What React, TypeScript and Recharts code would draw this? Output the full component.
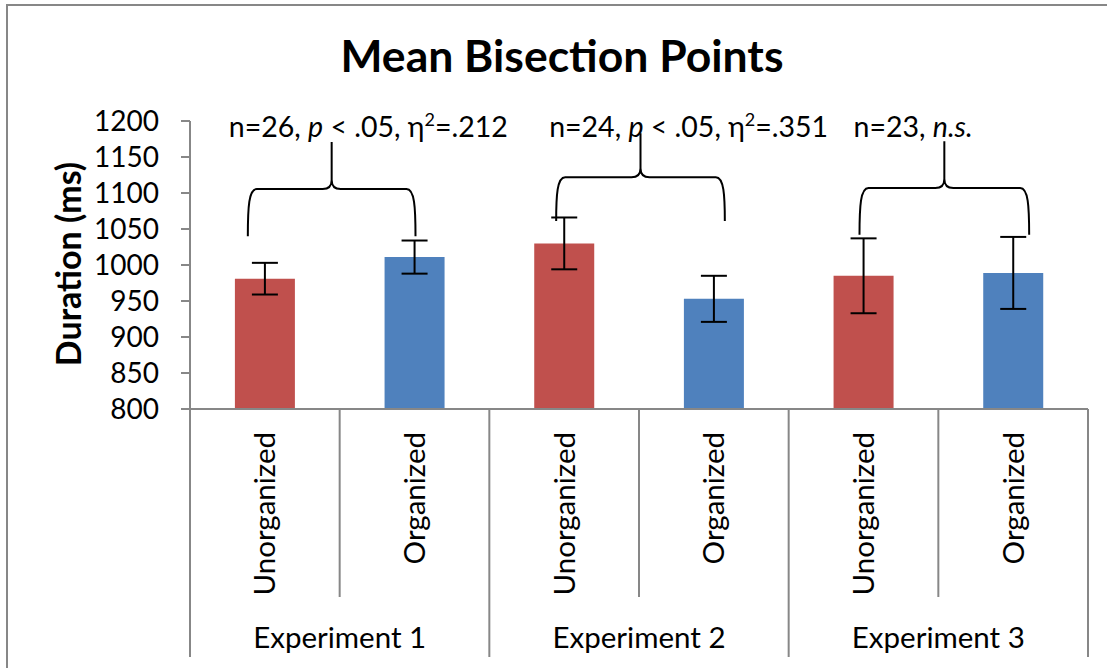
import React from "react";
import {
  BarChart,
  Bar,
  XAxis,
  YAxis,
  ErrorBar,
  Cell,
  ReferenceLine,
  ReferenceDot,
  Customized,
} from "recharts";

// ---- data ----
const CONDITIONS = ["Unorganized", "Organized", "Unorganized", "Organized", "Unorganized", "Organized"];
const EXPERIMENTS = ["Experiment 1", "Experiment 2", "Experiment 3"];
const MEANS = [981, 1011, 1030, 953, 985, 989];
const ERRORS = [22, 23, 36, 32, 52, 50];
const Y_TICKS = [800, 850, 900, 950, 1000, 1050, 1100, 1150, 1200];

// brace legs bottom / brace tip, in ms
const BRACE_LEGS = [1040, 1061, 1042];
const BRACE_TIPS = [1171, 1183, 1172];
const STATS_N = ["n=26", "n=24", "n=23"];
const STATS_P = ["< .05", "< .05", ""];
const STATS_ETA = [".212", ".351", ""];
const STATS_LEVEL = 1178;

// ---- styling ----
const FONT = "Lato, 'Open Sans', sans-serif";
const RED = "#C0504D";
const BLUE = "#4F81BD";
const AXIS_GRAY = "#878787";
const BRACE_NUDGE = [
  [-17, 1],
  [-8, 11],
  [-4, 16],
];
const STATS_DX = [-36, -15, -10];

const keyOf = (i: number) => `${Math.floor(i / 2)}-${CONDITIONS[i]}`;

const data = CONDITIONS.map((c, i) => ({
  key: keyOf(i),
  condition: c,
  mean: MEANS[i],
  err: ERRORS[i],
}));

const CategoryTick = (props: any) => {
  const { x, y, payload, index } = props;
  const i = payload?.index ?? index;
  const half = payload?.offset || 898 / 12;
  const groupStart = i % 2 === 0;
  const last = i === CONDITIONS.length - 1;
  return (
    <g>
      <line
        x1={x - half}
        x2={x - half}
        y1={y}
        y2={y + (groupStart ? 248 : 188)}
        stroke={AXIS_GRAY}
        strokeWidth={2}
      />
      {last && (
        <line x1={x + half} x2={x + half} y1={y} y2={y + 248} stroke={AXIS_GRAY} strokeWidth={2} />
      )}
      <text
        x={x}
        y={y + 23}
        dy="0.36em"
        textAnchor="end"
        transform={`rotate(-90, ${x}, ${y + 23})`}
        fontSize={29.5}
        fontFamily={FONT}
        fill="#000"
      >
        {CONDITIONS[i]}
      </text>
      {groupStart && (
        <text x={x + half} y={y + 239} textAnchor="middle" fontSize={29.5} fontFamily={FONT} fill="#000">
          {EXPERIMENTS[i / 2]}
        </text>
      )}
    </g>
  );
};

const Brace = (props: any) => {
  const { x1, y1, x2, y2, nudge } = props;
  if (x1 == null || y1 == null) return null;
  const xl = x1 + nudge[0];
  const xr = x2 + nudge[1];
  const xm = (xl + xr) / 2;
  const yLeg = y1;
  const yTip = y2;
  const yBar = (yLeg + yTip) / 2;
  const r = 9;
  const d = [
    `M${xl},${yLeg}`,
    `C${xl},${yBar + r * 2} ${xl + 1},${yBar} ${xl + r},${yBar}`,
    `L${xm - r},${yBar}`,
    `Q${xm},${yBar} ${xm},${yBar - r}`,
    `L${xm},${yTip}`,
    `M${xm},${yBar - r}`,
    `Q${xm},${yBar} ${xm + r},${yBar}`,
    `L${xr - r},${yBar}`,
    `C${xr - 1},${yBar} ${xr},${yBar + r * 2} ${xr},${yLeg}`,
  ].join(" ");
  return <path d={d} fill="none" stroke="#000" strokeWidth={2} />;
};

const StatsText = (props: any) => {
  const { cx, cy, g } = props;
  if (cx == null) return null;
  const common = { fontSize: 28.5, fontFamily: FONT, fill: "#000" };
  if (!STATS_P[g]) {
    return (
      <text x={cx + STATS_DX[g]} y={cy} {...common}>
        {STATS_N[g]},{" "}
        <tspan fontStyle="italic">n.s.</tspan>
      </text>
    );
  }
  return (
    <text x={cx + STATS_DX[g]} y={cy} {...common}>
      {STATS_N[g]}, <tspan fontStyle="italic">p</tspan>
      <tspan> {STATS_P[g]}, η</tspan>
      <tspan dy={-11} fontSize={18}>2</tspan>
      <tspan dy={11}>={STATS_ETA[g]}</tspan>
    </text>
  );
};

const Titles = () => (
  <g>
    <text x={562} y={72} textAnchor="middle" fontSize={44.5} fontWeight="bold" fontFamily={FONT} fill="#000">
      Mean Bisection Points
    </text>
    <text
      x={67}
      y={264}
      textAnchor="middle"
      dominantBaseline="central"
      transform="rotate(-90, 67, 264)"
      fontSize={34}
      fontWeight="bold"
      fontFamily={FONT}
      fill="#000"
    >
      Duration (ms)
    </text>
  </g>
);

export default function App() {
  return (
    <div
      style={{
        position: "absolute",
        left: 0,
        top: 0,
        width: 1107,
        height: 668,
        overflow: "hidden",
        background: "#fff",
      }}
    >
      <div
        style={{
          position: "absolute",
          left: 6,
          top: 4,
          width: 1200,
          height: 900,
          borderLeft: `2px solid ${AXIS_GRAY}`,
          borderTop: `2px solid ${AXIS_GRAY}`,
        }}
      />
      <div style={{ position: "absolute", left: 0, top: 0 }}>
        <BarChart
          width={1107}
          height={668}
          data={data}
          margin={{ top: 121, right: 19, bottom: 0, left: 0 }}
          barCategoryGap="30%"
        >
          <YAxis
            type="number"
            domain={[800, 1200]}
            ticks={Y_TICKS}
            interval={0}
            allowDataOverflow
            width={190}
            tickSize={9}
            tickMargin={22}
            tick={{ fill: "#000", fontSize: 28, fontFamily: FONT }}
            axisLine={{ stroke: AXIS_GRAY, strokeWidth: 2 }}
            tickLine={{ stroke: AXIS_GRAY, strokeWidth: 2 }}
          />
          <XAxis
            dataKey="key"
            type="category"
            interval={0}
            height={259}
            tickLine={false}
            tickSize={0}
            tickMargin={0}
            axisLine={{ stroke: AXIS_GRAY, strokeWidth: 2 }}
            tick={(p: any) => <CategoryTick {...p} />}
          />
          <Bar dataKey="mean" isAnimationActive={false}>
            {data.map((d) => (
              <Cell key={d.key} fill={d.condition === "Unorganized" ? RED : BLUE} />
            ))}
            <ErrorBar dataKey="err" width={13} strokeWidth={2} stroke="#000" isAnimationActive={false} />
          </Bar>
          {EXPERIMENTS.map((e, g) => (
            <ReferenceLine
              key={`brace-${e}`}
              segment={[
                { x: keyOf(2 * g), y: BRACE_LEGS[g] },
                { x: keyOf(2 * g + 1), y: BRACE_TIPS[g] },
              ]}
              shape={(p: any) => <Brace {...p} nudge={BRACE_NUDGE[g]} />}
            />
          ))}
          {EXPERIMENTS.map((e, g) => (
            <ReferenceDot
              key={`stats-${e}`}
              x={keyOf(2 * g)}
              y={STATS_LEVEL}
              shape={(p: any) => <StatsText {...p} g={g} />}
            />
          ))}
          <Customized component={Titles} />
        </BarChart>
      </div>
    </div>
  );
}
